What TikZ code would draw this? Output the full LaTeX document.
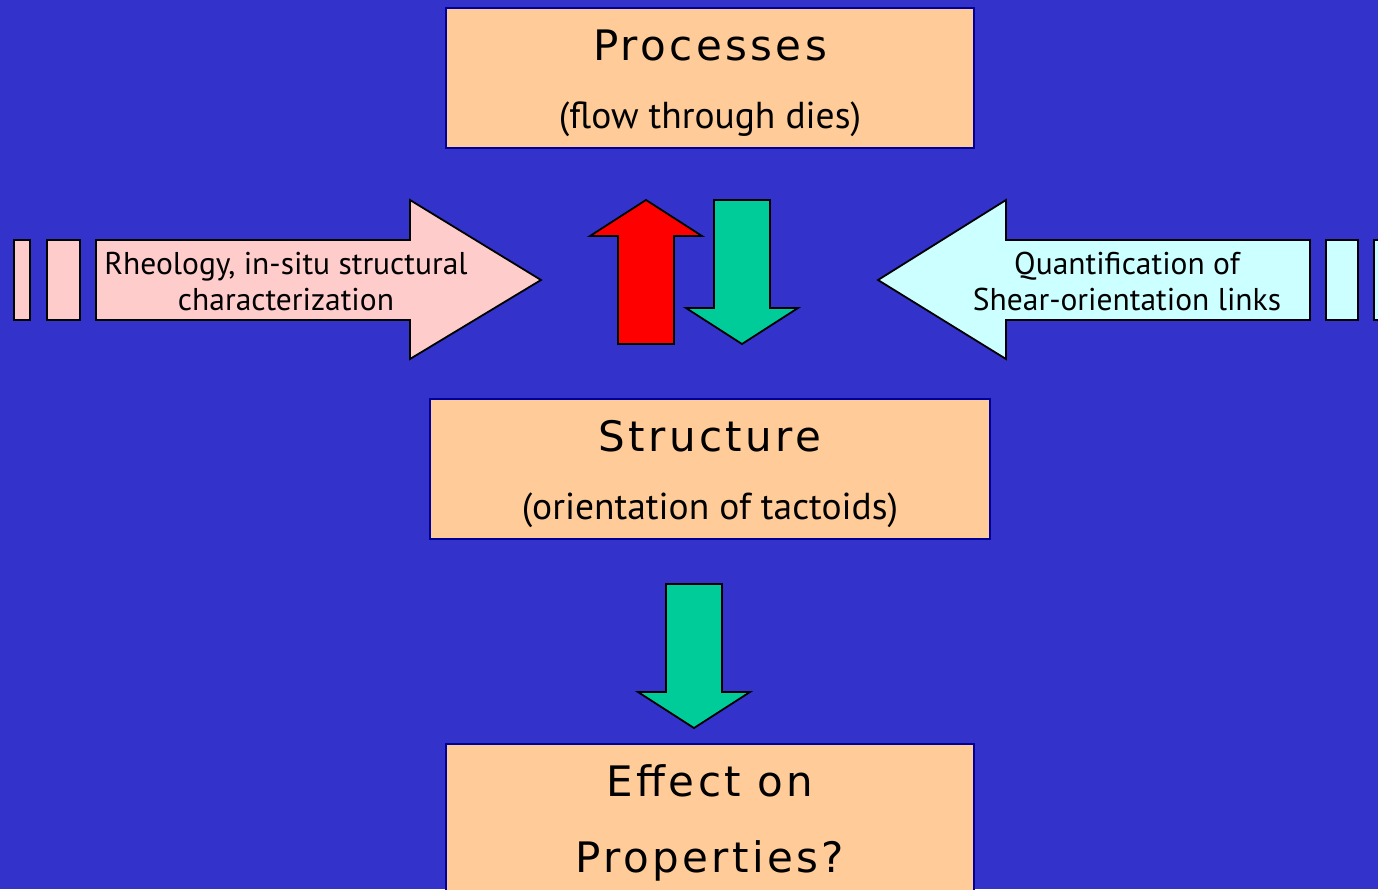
\documentclass[tikz,border=0pt]{standalone}
\usepackage{fontspec}
\newfontfamily\headfont[LetterSpace=8]{DejaVu Sans}
\newfontfamily\subfont{PT Sans}
\definecolor{bg}{HTML}{3333CC}
\definecolor{boxfill}{HTML}{FFCC99}
\definecolor{boxline}{HTML}{000099}
\definecolor{pinkfill}{HTML}{FFCCCC}
\definecolor{cyanfill}{HTML}{CCFFFF}
\definecolor{greenfill}{HTML}{00CC99}
\definecolor{redfill}{HTML}{FF0000}
\tikzset{
  box/.style={draw=boxline, fill=boxfill, line width=1.6pt, inner sep=0pt},
  blockarrow/.style={draw=black, line width=1.8pt, line join=miter},
  headtext/.style={anchor=base, inner sep=0pt, font=\headfont\fontsize{42}{50}\selectfont},
  subtext/.style={anchor=base, inner sep=0pt, font=\subfont\fontsize{37.5}{44}\selectfont},
  arrowtext/.style={anchor=base, inner sep=0pt, font=\subfont\fontsize{31.5}{38}\selectfont}
}
\begin{document}
\begin{tikzpicture}[x=1pt,y=-1pt]
\fill[bg] (0,0) rectangle (1378,889);
\useasboundingbox (0,0) rectangle (1378,889);

% boxes
\node[box, minimum width=528pt, minimum height=140pt] (proc) at (710,78) {};
\node[headtext] (proct) at (710,60) {Processes};
\node[subtext] (procs) at (710,128) {(flow through dies)};

\node[box, minimum width=560pt, minimum height=140pt] (struct) at (710,469) {};
\node[headtext] (structt) at (710,451) {Structure};
\node[subtext] (structs) at (710,519) {(orientation of tactoids)};

\node[box, minimum width=528pt, minimum height=200pt] (eff) at (710,844) {};
\node[headtext] (efft) at (710,796) {Effect on};
\node[headtext] (effp) at (710,872) {Properties?};

% left striped arrow
\draw[blockarrow, fill=pinkfill] (14,240) rectangle (30,320);
\draw[blockarrow, fill=pinkfill] (47,240) rectangle (80,320);
\draw[blockarrow, fill=pinkfill] (96,240) -- (410,240) -- (410,200) -- (541,280) -- (410,359) -- (410,320) -- (96,320) -- cycle;
\node[arrowtext] (lt1) at (286,274) {Rheology, in-situ structural};
\node[arrowtext] (lt2) at (286,310) {characterization};

% right striped arrow
\draw[blockarrow, fill=cyanfill] (1326,240) rectangle (1358,320);
\draw[blockarrow, fill=cyanfill] (1374,240) rectangle (1400,320);
\draw[blockarrow, fill=cyanfill] (1310,240) -- (1006,240) -- (1006,200) -- (878,280) -- (1006,359) -- (1006,320) -- (1310,320) -- cycle;
\node[arrowtext] (rt1) at (1127,274) {Quantification of};
\node[arrowtext] (rt2) at (1127,310) {Shear-orientation links};

% middle arrows
\draw[blockarrow, fill=redfill] (618,344) -- (618,236) -- (590,236) -- (646,200) -- (702,236) -- (674,236) -- (674,344) -- cycle;
\draw[blockarrow, fill=greenfill] (714,200) -- (770,200) -- (770,308) -- (798,308) -- (742,344) -- (686,308) -- (714,308) -- cycle;

% lower arrow
\draw[blockarrow, fill=greenfill] (666,584) -- (722,584) -- (722,692) -- (750,692) -- (694,728) -- (638,692) -- (666,692) -- cycle;
\end{tikzpicture}
\end{document}
